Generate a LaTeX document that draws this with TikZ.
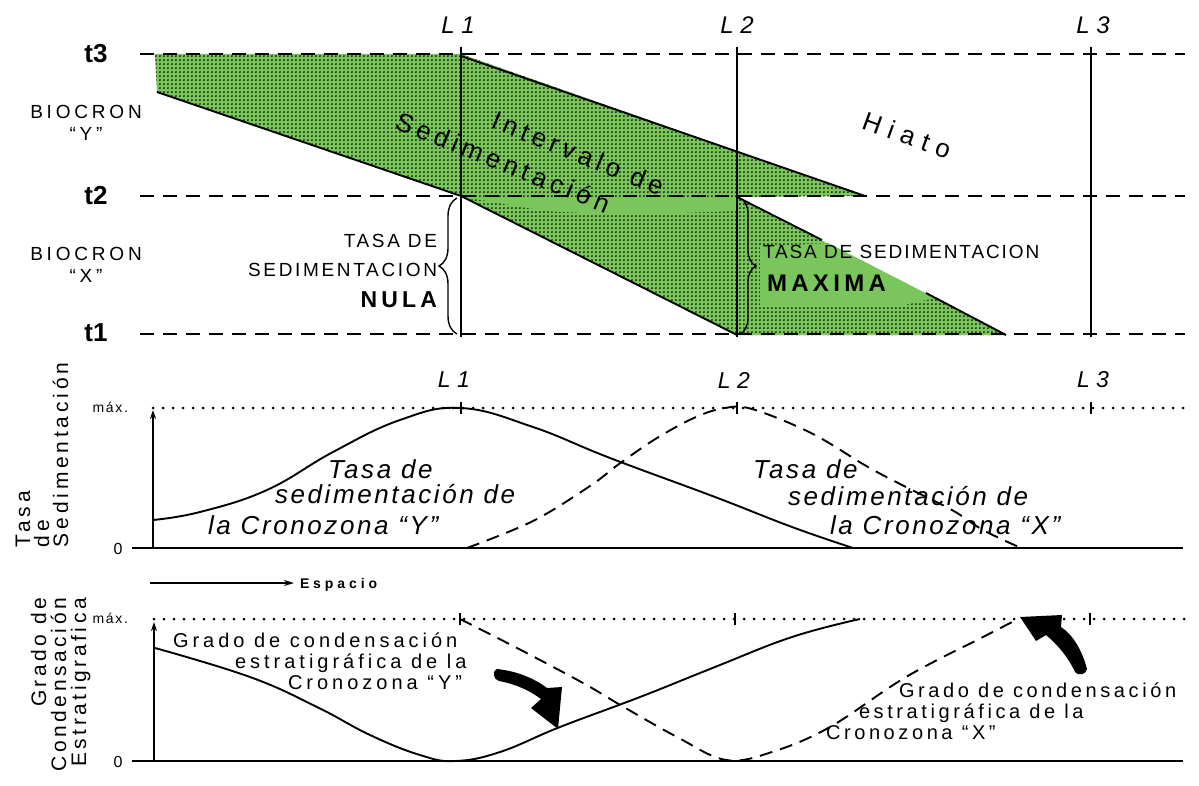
\documentclass[tikz,border=0pt]{standalone}
\usepackage{fontspec}
\setmainfont{Liberation Sans}
\usetikzlibrary{patterns,decorations.pathreplacing,arrows.meta}
\definecolor{gr}{RGB}{122,198,92}
\pgfdeclarepatternformonly{gdots}{\pgfpointorigin}{\pgfpoint{4.4pt}{4.4pt}}{\pgfpoint{4.4pt}{4.4pt}}{\pgfpathcircle{\pgfpoint{2.2pt}{2.2pt}}{1.05pt}\pgfusepath{fill}}
\newcommand\setfs[2]{\fontsize{#1}{#1}\selectfont\addfontfeature{LetterSpace=#2}}
\newcommand\greenpath{(155,54) -- (461,54) -- (865,196) -- (737,197) -- (1006,335) -- (737,335) -- (461,196) -- (157,92) -- cycle}
\tikzset{
 txt/.style={inner sep=0pt, outer sep=0pt},
 dline/.style={line width=2.1pt, dash pattern=on 14pt off 9pt},
 dotline/.style={line width=3pt, line cap=round, dash pattern=on 0pt off 10pt},
 edge/.style={line width=1.9pt},
 crv/.style={line width=1.9pt},
 dcrv/.style={line width=1.9pt, dash pattern=on 13pt off 8pt},
 axisline/.style={line width=2.3pt},
 vline/.style={line width=2.1pt},
 brc/.style={line width=1.4pt, decorate},
 tickmark/.style={line width=1.6pt},
 uparrow/.style={-{Stealth[length=9pt,width=6pt]}, line width=1.8pt}
}
\begin{document}
\begin{tikzpicture}[x=1pt,y=-1pt]
\useasboundingbox (0,0) rectangle (1199,786);
\fill[white] (0,0) rectangle (1199,786);

% ---------- top panel: green bands ----------
\fill[gr] \greenpath;
\fill[pattern=gdots, pattern color=black] \greenpath;
\fill[gr] (760,247) -- (828,243) -- (935,298) -- (900,306) -- (760,306) -- cycle;
\fill[gr] (475,199) -- (737,199) -- (737,211) -- (620,215) -- (545,211) -- cycle;

\draw[edge] (157,92) -- (461,196);
\draw[edge] (461,56) -- (865,196);
\draw[edge] (461,196) -- (737,335);
\draw[edge] (737,197) -- (822,240);
\draw[edge] (926,293) -- (1006,335);

% time lines
\coordinate (t3a) at (140,54);  \coordinate (t3b) at (1185,54);
\coordinate (t2a) at (140,196); \coordinate (t2b) at (1185,196);
\coordinate (t1a) at (140,334); \coordinate (t1b) at (1185,334);
\draw[dline] (t3a) -- (t3b);
\draw[dline] (t2a) -- (t2b);
\draw[dline] (t1a) -- (t1b);

% location lines
\coordinate (l1a) at (461,47);  \coordinate (l1b) at (461,337);
\coordinate (l2a) at (737,47);  \coordinate (l2b) at (737,337);
\coordinate (l3a) at (1091,47); \coordinate (l3b) at (1091,337);
\draw[vline] (l1a) -- (l1b);
\draw[vline] (l2a) -- (l2b);
\draw[vline] (l3a) -- (l3b);

% braces
\coordinate (b1a) at (457,334); \coordinate (b1b) at (457,198);
\draw[brc, decoration={brace, amplitude=18pt}] (b1a) -- (b1b);
\coordinate (b2a) at (740,198); \coordinate (b2b) at (740,334);
\draw[brc, decoration={brace, amplitude=16pt}] (b2a) -- (b2b);

% top labels
\node[txt, font={\setfs{26}{0}\bfseries}] (lt3) at (96,54) {t3};
\node[txt, font={\setfs{26}{0}\bfseries}] (lt2) at (96,196) {t2};
\node[txt, font={\setfs{26}{0}\bfseries}] (lt1) at (96,333) {t1};
\node[txt, align=center, font={\setfs{19}{20}}] (biy) at (86,123) {BIOCRON\\[3pt]“Y”};
\node[txt, align=center, font={\setfs{19}{20}}] (bix) at (86,265) {BIOCRON\\[3pt]“X”};
\node[txt, font={\setfs{24}{28}\itshape}] (lL1) at (458,25) {L1};
\node[txt, font={\setfs{24}{28}\itshape}] (lL2) at (737,25) {L2};
\node[txt, font={\setfs{24}{28}\itshape}] (lL3) at (1093,25) {L3};

\node[txt, anchor=base east, font={\setfs{19}{14}}] (n1) at (437,248) {TASA DE};
\node[txt, anchor=base east, font={\setfs{19}{14}}] (n2) at (437,277) {SEDIMENTACION};
\node[txt, anchor=base east, font={\setfs{23}{18}\bfseries}] (n3) at (437,308) {NULA};
\node[txt, anchor=base west, font={\setfs{19}{10}}] (m1) at (763,259) {TASA DE SEDIMENTACION};
\node[txt, anchor=base west, font={\setfs{24}{18}\bfseries}] (m2) at (767,291) {MAXIMA};

\node[txt, rotate=-22, font={\setfs{26}{18}}] (iv1) at (578,153) {Intervalo de};
\node[txt, rotate=-22, font={\setfs{26}{18}}] (iv2) at (503,162) {Sedimentación};
\node[txt, rotate=-20, font={\setfs{26}{30}}] (hia) at (907,135) {Hiato};

% ---------- middle panel ----------
\coordinate (ma) at (132,548); \coordinate (mb) at (1183,548);
\coordinate (mda) at (153,408); \coordinate (mdb) at (1185,408);
\coordinate (mo) at (153,548); \coordinate (mt) at (153,410);
\draw[dotline] (mda) -- (mdb);
\draw[axisline] (ma) -- (mb);
\draw[uparrow] (mo) -- (mt);
\foreach \xx/\nm in {461/a,737/b,1091/c}{
  \coordinate (mk\nm1) at (\xx,402); \coordinate (mk\nm2) at (\xx,414);
  \draw[tickmark] (mk\nm1) -- (mk\nm2);
}
\draw[crv] plot[smooth, tension=0.7] coordinates {(153,520) (200,512) (267,490) (333,452) (400,420) (461,408) (533,427) (610,458) (715,497) (792,527) (853,548)};
\draw[dcrv] plot[smooth, tension=0.6] coordinates {(467,548) (533,521) (590,486) (619,464) (657,438) (696,417) (725,408) (752,409) (811,433) (868,467) (906,487) (952,510) (983,530) (1021,548)};

\node[txt, font={\setfs{23}{28}\itshape}] (mL1) at (454,380) {L1};
\node[txt, font={\setfs{23}{28}\itshape}] (mL2) at (734,380) {L2};
\node[txt, font={\setfs{23}{28}\itshape}] (mL3) at (1093,380) {L3};
\node[txt, anchor=base east, font={\setfs{14}{12}}] (mmax) at (128,412) {máx.};
\node[txt, font={\setfs{16}{0}}] (mzero) at (118,549) {0};
\node[txt, rotate=90, anchor=base west, font={\setfs{21}{18}}] (mv1) at (30,547) {Tasa};
\node[txt, rotate=90, anchor=base west, font={\setfs{21}{18}}] (mv2) at (49,547) {de};
\node[txt, rotate=90, anchor=base west, font={\setfs{21}{18}}] (mv3) at (68,547) {Sedimentación};

\node[txt, anchor=base west, font={\setfs{26}{10}\itshape}] (ty1) at (328,478) {Tasa de};
\node[txt, anchor=base west, font={\setfs{26}{10}\itshape}] (ty2) at (275,503) {sedimentación de};
\node[txt, anchor=base west, font={\setfs{26}{10}\itshape}] (ty3) at (208,534) {la Cronozona “Y”};
\node[txt, anchor=base west, font={\setfs{26}{10}\itshape}] (tx1) at (753,478) {Tasa de};
\node[txt, anchor=base west, font={\setfs{26}{10}\itshape}] (tx2) at (788,505) {sedimentación de};
\node[txt, anchor=base west, font={\setfs{26}{10}\itshape}] (tx3) at (830,534) {la Cronozona “X”};

% Espacio
\coordinate (esa) at (150,583); \coordinate (esb) at (294,583);
\draw[-{Stealth[length=10pt,width=6pt]}, line width=1.6pt] (esa) -- (esb);
\node[txt, anchor=base west, font={\setfs{14}{28}\bfseries}] (esp) at (300,588) {Espacio};

% ---------- bottom panel ----------
\coordinate (ba) at (132,761); \coordinate (bb) at (1183,761);
\coordinate (bda) at (154,619); \coordinate (bdb) at (1185,619);
\coordinate (bo) at (154,761); \coordinate (bt) at (154,622);
\draw[dotline] (bda) -- (bdb);
\draw[axisline] (ba) -- (bb);
\draw[uparrow] (bo) -- (bt);
\foreach \xx/\nm in {460/a,735/b,1090/c}{
  \coordinate (bk\nm1) at (\xx,613); \coordinate (bk\nm2) at (\xx,625);
  \draw[tickmark] (bk\nm1) -- (bk\nm2);
}
\draw[crv] plot[smooth, tension=0.7] coordinates {(155,648) (250,677) (317,707) (370,735) (420,755) (455,761) (500,752) (560,727) (640,697) (715,667) (792,637) (860,619)};
\draw[dcrv] plot[smooth, tension=0.6] coordinates {(460,619) (517,648) (583,683) (622,706) (677,737) (726,760) (772,752) (830,727) (906,677) (983,637) (1018,619)};

\node[txt, anchor=base east, font={\setfs{14}{12}}] (bmax) at (128,623) {máx.};
\node[txt, font={\setfs{16}{0}}] (bzero) at (118,762) {0};
\node[txt, rotate=90, anchor=base east, font={\setfs{21}{17}}] (bv1) at (46,598) {Grado de};
\node[txt, rotate=90, anchor=base east, font={\setfs{21}{17}}] (bv2) at (66,598) {Condensación};
\node[txt, rotate=90, anchor=base east, font={\setfs{21}{17}}] (bv3) at (86,598) {Estratigrafica};

\node[txt, anchor=base west, font={\setfs{20}{20}}] (gy1) at (173,647) {Grado de condensación};
\node[txt, anchor=base west, font={\setfs{20}{20}}] (gy2) at (235,668) {estratigráfica de la};
\node[txt, anchor=base west, font={\setfs{20}{20}}] (gy3) at (288,689) {Cronozona “Y”};
\node[txt, anchor=base west, font={\setfs{20}{18}}] (gx1) at (899,697) {Grado de condensación};
\node[txt, anchor=base west, font={\setfs{20}{18}}] (gx2) at (859,718) {estratigráfica de la};
\node[txt, anchor=base west, font={\setfs{20}{18}}] (gx3) at (826,739) {Cronozona “X”};

% fat curved arrows
\fill (497,669) .. controls (516,671) and (534,678) .. (547,688) -- (562,687) -- (558,729) -- (531,708) -- (541,699) .. controls (529,690) and (515,684) .. (499,681) .. controls (493,680) and (492,670) .. (497,669) -- cycle;
\fill (1087,669) .. controls (1082,650) and (1073,635) .. (1061,627) -- (1062,615) -- (1020,617) -- (1036,641) -- (1046,635) .. controls (1058,645) and (1068,657) .. (1075,672) .. controls (1078,676) and (1086,675) .. (1087,669) -- cycle;
\end{tikzpicture}
\end{document}
